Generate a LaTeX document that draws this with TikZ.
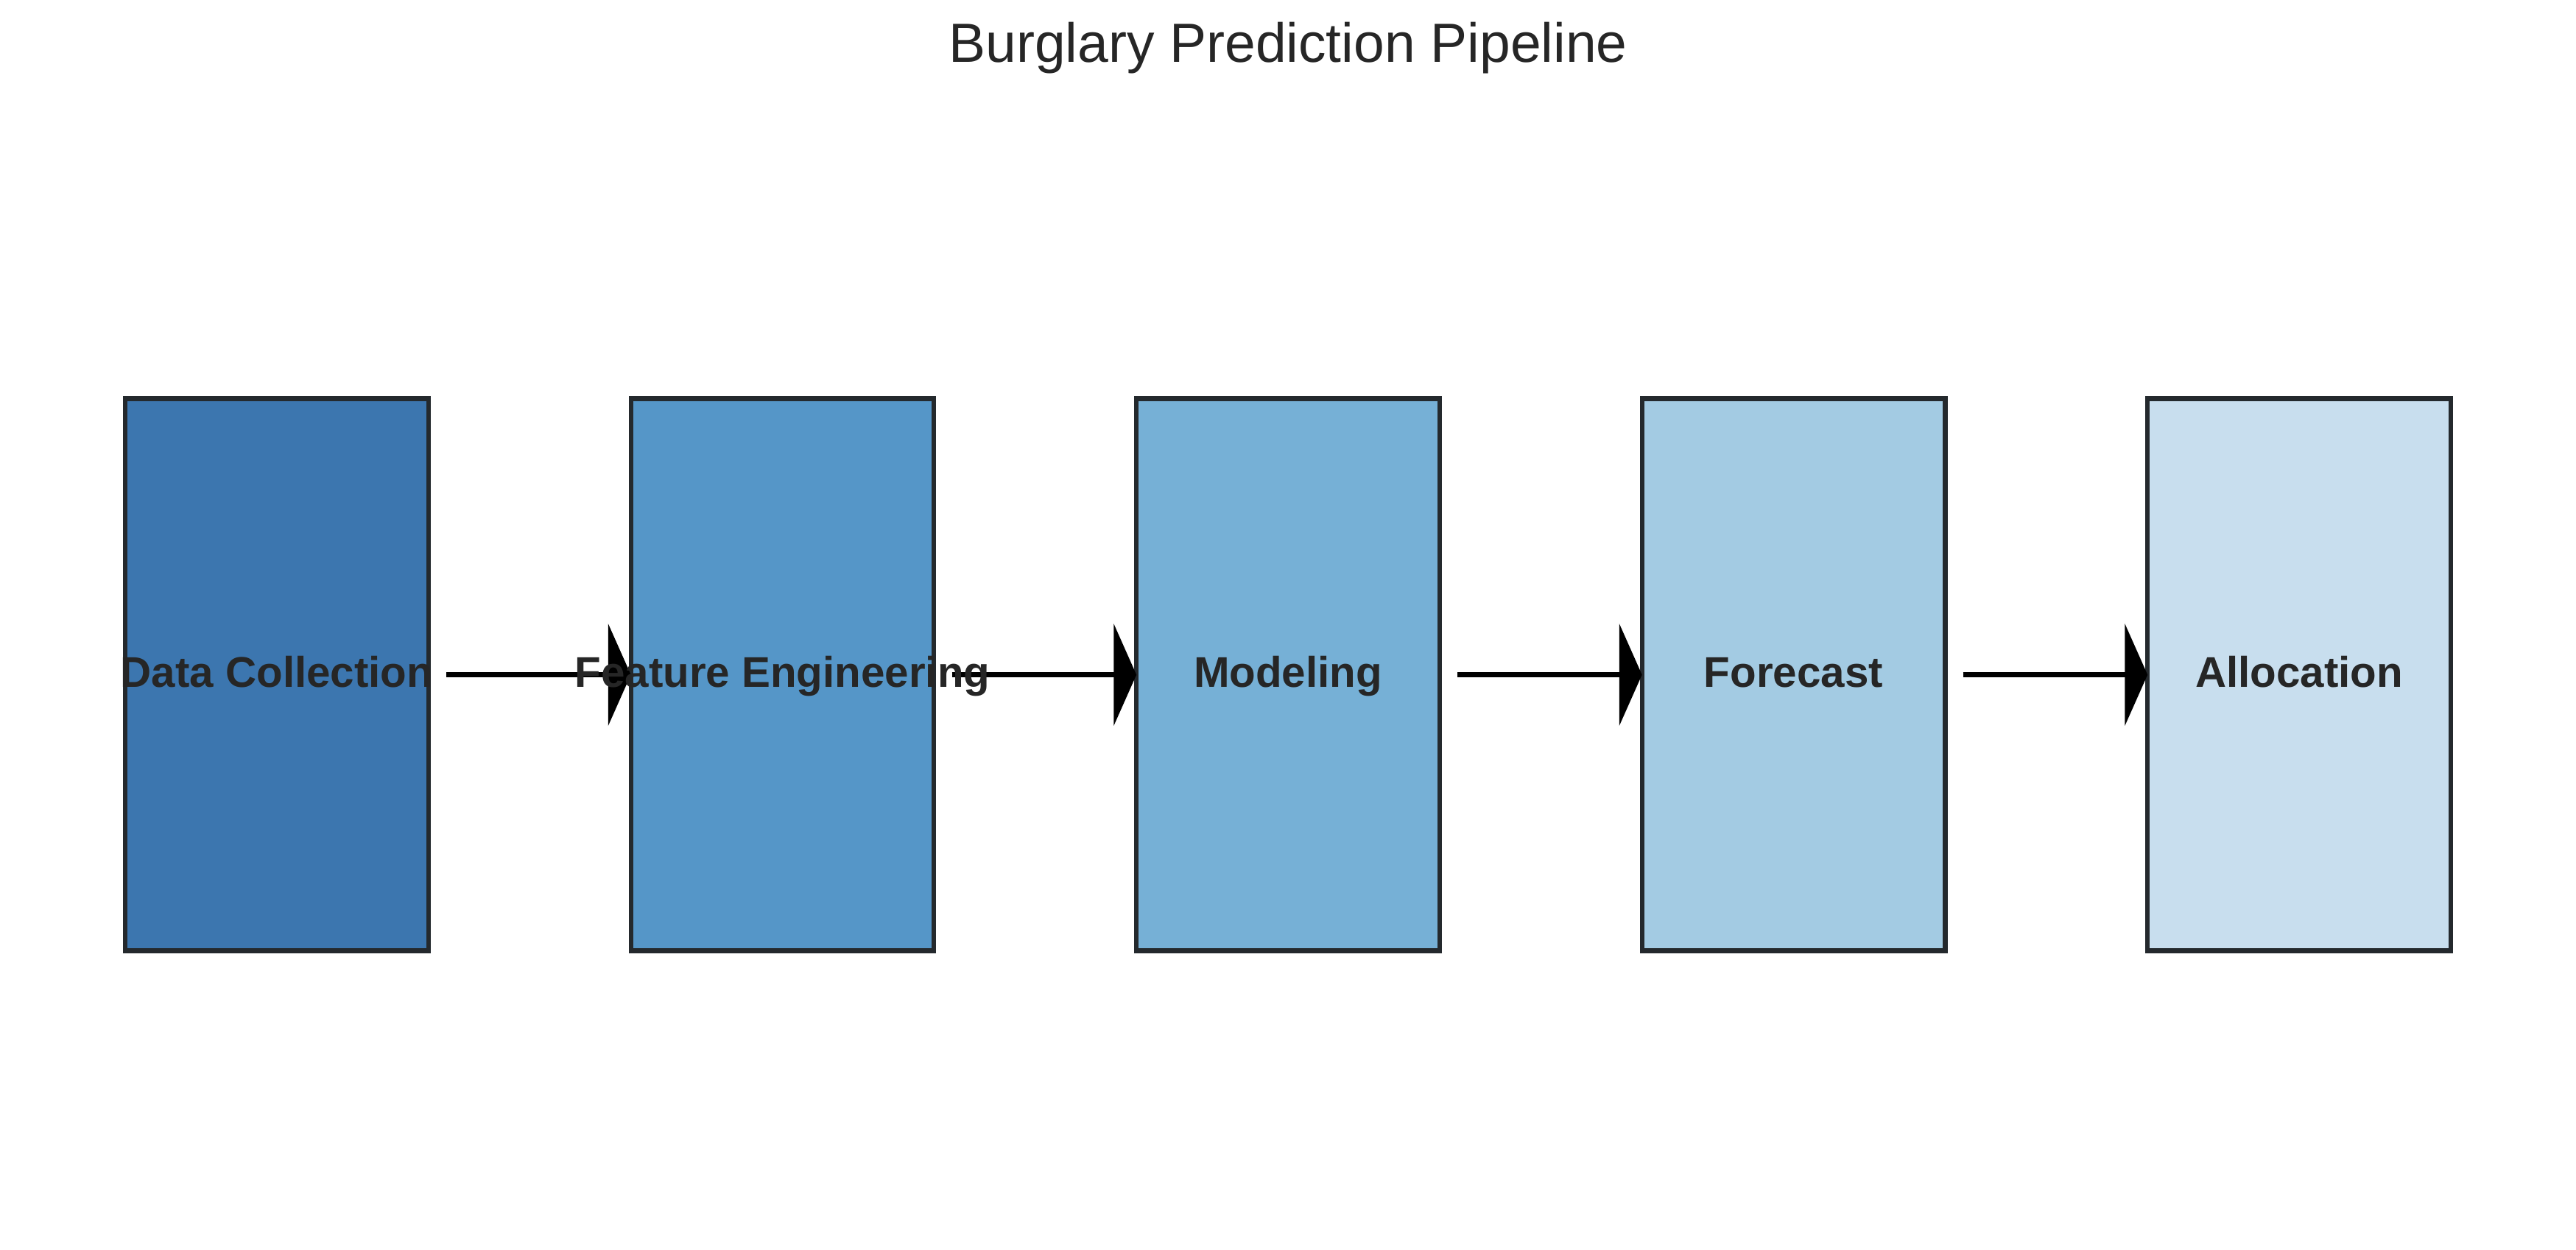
\documentclass[tikz,border=0pt]{standalone}
\usepackage{fontspec}
\setmainfont{Liberation Sans}
\usetikzlibrary{arrows.meta,positioning}

\definecolor{stageA}{HTML}{3C76AF}
\definecolor{stageB}{HTML}{5596C8}
\definecolor{stageC}{HTML}{76B0D6}
\definecolor{stageD}{HTML}{A3CBE3}
\definecolor{stageE}{HTML}{C8DEEE}
\definecolor{edgegray}{HTML}{24292D}
\definecolor{labelgray}{HTML}{262626}

\begin{document}
\begin{tikzpicture}[
    node distance=164.76pt,
    stagebox/.style={
        rectangle,
        draw=edgegray,
        line width=1.5pt,
        outer sep=0pt,
        minimum width=98.8pt,
        minimum height=180pt
    },
    stagelabel/.style={
        font=\bfseries\fontsize{14}{17}\selectfont,
        text=labelgray,
        inner sep=0pt,
        text height=10.9pt,
        text depth=3pt
    },
    arrow/.style={-{Triangle[length=7.4pt,width=33.1pt]}, line width=1.6pt, shorten <=5.8pt}
]
\useasboundingbox (0,0) rectangle (839.52pt,407.28pt);

% Title
\node[anchor=base, font=\fontsize{18}{22}\selectfont, text=labelgray] (title) at (419.76pt,387.1pt) {Burglary Prediction Pipeline};

% Nodes
\node[stagebox, fill=stageA] (collect) at (90.24pt,187.3pt) {};

\node[stagebox, fill=stageB, right of=collect] (feature) {};

\node[stagebox, fill=stageC, right of=feature] (model) {};

\node[stagebox, fill=stageD, right of=model] (forecast) {};

\node[stagebox, fill=stageE, right of=forecast] (alloc) {};

% Arrows
\draw[arrow] (collect) -- (feature);
\draw[arrow] (feature) -- (model);
\draw[arrow] (model) -- (forecast);
\draw[arrow] (forecast) -- (alloc);

% Labels
\node[stagelabel] (collect-txt) at (collect) {Data Collection};
\node[stagelabel] (feature-txt) at (feature) {Feature Engineering};
\node[stagelabel] (model-txt) at (model) {Modeling};
\node[stagelabel] (forecast-txt) at (forecast) {Forecast};
\node[stagelabel] (alloc-txt) at (alloc) {Allocation};

\end{tikzpicture}
\end{document}
